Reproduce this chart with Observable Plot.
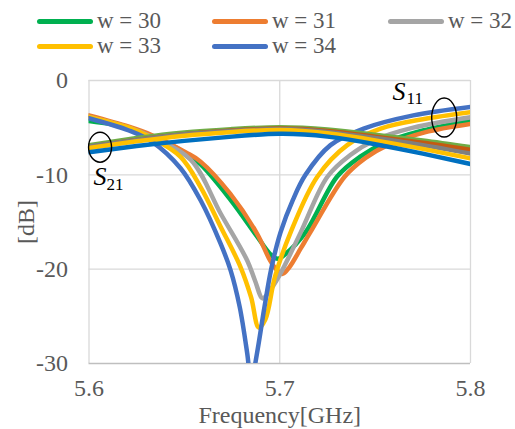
<!DOCTYPE html>
<html><head><meta charset="utf-8">
<script src="https://cdn.jsdelivr.net/npm/d3@7"></script>
<script src="https://cdn.jsdelivr.net/npm/@observablehq/plot@0.6"></script>
<style>
body{margin:0;background:#fff;}
#wrap{position:relative;width:515px;height:429px;font-family:"Liberation Serif","Times New Roman",serif;color:#595959;overflow:hidden;}
.leg{position:absolute;display:flex;align-items:center;font-size:23px;white-space:nowrap;height:24px;line-height:24px;}
.sw{width:56px;height:5px;border-radius:3px;margin-right:4px;}
#chart{position:absolute;left:0;top:60px;}
</style></head><body>
<div id="wrap"><div id="legend"></div><div id="chart"></div></div>
<script>
// ---- data ----
const widths = [30, 31, 32, 33, 34];
const legendLabels = ["w = 30", "w = 31", "w = 32", "w = 33", "w = 34"];
const s11Colors = ["#00b050", "#ed7d31", "#a5a5a5", "#ffc000", "#4472c4"];
const s21Colors = ["#70ad47", "#c55a11", "#7f7f7f", "#ffc000", "#0070c0"];

// S11 (reflection) per width: frequency [GHz] and magnitude [dB]
const s11Freq30 = [5.600, 5.6209, 5.6331, 5.6506, 5.6585, 5.674, 5.688, 5.695, 5.699, 5.703, 5.7135, 5.730, 5.742, 5.755, 5.775, 5.800];
const s11dB30   = [-4.3, -5.0, -5.9, -7.7, -8.9, -12.6, -16.5, -18.4, -18.9, -18.4, -16.1, -10.2, -8.1, -6.6, -5.3, -4.25];
const s11Freq31 = [5.600, 5.6209, 5.6331, 5.6506, 5.6585, 5.674, 5.688, 5.695, 5.6985, 5.7015, 5.705, 5.711, 5.716, 5.734, 5.745, 5.756, 5.776, 5.800];
const s11dB31   = [-3.7, -4.9, -5.8, -7.6, -8.6, -12.0, -16.2, -19.1, -20.1, -20.5, -19.8, -17.8, -16.1, -10.2, -8.2, -6.9, -5.5, -4.6];
const s11Freq32 = [5.600, 5.6209, 5.6331, 5.6533, 5.669, 5.683, 5.687, 5.691, 5.694, 5.700, 5.711, 5.725, 5.737, 5.750, 5.770, 5.800];
const s11dB32   = [-3.85, -5.0, -6.0, -8.4, -14.1, -19.1, -21.2, -23.1, -22.5, -20.6, -16.1, -10.2, -7.9, -6.3, -5.0, -3.9];
const s11Freq33 = [5.600, 5.6209, 5.6331, 5.648, 5.6585, 5.669, 5.6795, 5.685, 5.689, 5.6925, 5.6975, 5.7057, 5.7197, 5.7354, 5.7529, 5.775, 5.800];
const s11dB33   = [-3.85, -5.0, -6.1, -8.1, -11.3, -15.5, -19.8, -23.0, -26.2, -25.3, -20.8, -16.1, -10.2, -6.85, -5.1, -4.1, -3.35];
const s11Freq34 = [5.600, 5.6209, 5.6331, 5.648, 5.6585, 5.669, 5.6742, 5.679, 5.683, 5.685, 5.688, 5.692, 5.6955, 5.7004, 5.707, 5.7135, 5.7266, 5.744, 5.770, 5.800];
const s11dB34   = [-4.0, -5.3, -6.5, -9.3, -12.7, -17.3, -20.1, -24.0, -29.0, -32.0, -29.0, -24.0, -20.0, -16.1, -12.6, -10.0, -6.85, -5.1, -3.7, -2.8];

// S21 (transmission), common frequency grid
const s21Freq = [5.600, 5.625, 5.650, 5.675, 5.700, 5.725, 5.750, 5.775, 5.800];
const s21dB30 = [-6.85, -6.1, -5.5, -5.15, -4.95, -5.2, -5.75, -6.35, -7.05];
const s21dB31 = [-7.05, -6.3, -5.7, -5.3, -5.1, -5.35, -5.95, -6.6, -7.35];
const s21dB32 = [-7.0, -6.3, -5.7, -5.35, -5.15, -5.45, -6.1, -6.85, -7.75];
const s21dB33 = [-7.15, -6.45, -5.85, -5.45, -5.25, -5.6, -6.35, -7.25, -8.25];
const s21dB34 = [-7.6, -6.95, -6.4, -5.95, -5.65, -5.95, -6.75, -7.75, -8.85];

const xTicks = [5.6, 5.7, 5.8];
const yTicks = [0, -10, -20, -30];

// ---- build tables ----
const s11Sets = [[s11Freq30, s11dB30], [s11Freq31, s11dB31], [s11Freq32, s11dB32], [s11Freq33, s11dB33], [s11Freq34, s11dB34]];
const s21Sets = [s21dB30, s21dB31, s21dB32, s21dB33, s21dB34];
const s11Rows = s11Sets.map(([fs, ds], i) => fs.map((f, j) => ({f, db: ds[j], w: widths[i]})));
const s21Rows = s21Sets.map((ds, i) => s21Freq.map((f, j) => ({f, db: ds[j], w: widths[i]})));

// legend
const legPos = [[37, 9], [212, 9], [388, 9], [37, 34], [212, 34]];
const legend = document.getElementById("legend");
legendLabels.forEach((lab, i) => {
  const d = document.createElement("div");
  d.className = "leg";
  d.style.left = legPos[i][0] + "px";
  d.style.top = legPos[i][1] + "px";
  d.innerHTML = `<span class="sw" style="background:${s11Colors[i]}"></span><span>${lab}</span>`;
  legend.appendChild(d);
});

function ellipseSymbol(rx, ry) {
  const k = 0.5523;
  return {draw(ctx) {
    ctx.moveTo(rx, 0);
    ctx.bezierCurveTo(rx, ry * k, rx * k, ry, 0, ry);
    ctx.bezierCurveTo(-rx * k, ry, -rx, ry * k, -rx, 0);
    ctx.bezierCurveTo(-rx, -ry * k, -rx * k, -ry, 0, -ry);
    ctx.bezierCurveTo(rx * k, -ry, rx, -ry * k, rx, 0);
    ctx.closePath();
  }};
}

const serif = "Liberation Serif, Times New Roman, serif";
const chart = Plot.plot({
  width: 515, height: 369,
  marginLeft: 88.5, marginRight: 45, marginTop: 20, marginBottom: 66,
  x: {domain: [5.6, 5.8]},
  y: {domain: [-30, 0]},
  style: {fontFamily: serif, fontSize: "24px", color: "#595959", background: "#fff", overflow: "visible"},
  marks: [
    Plot.gridY(yTicks.slice(0, 3), {stroke: "#d9d9d9", strokeOpacity: 1, strokeWidth: 1.3}),
    Plot.gridX(xTicks, {stroke: "#d9d9d9", strokeOpacity: 1, strokeWidth: 1.3}),
    Plot.ruleY([-30], {stroke: "#bfbfbf", strokeWidth: 1.6}),
    Plot.axisY(yTicks, {tickSize: 0, tickPadding: 21, fontSize: 24, tickFormat: d => String(d), label: "[dB]", labelAnchor: "center", labelArrow: "none", labelOffset: 72}),
    Plot.axisX(xTicks, {tickSize: 0, tickPadding: 15, fontSize: 24, tickFormat: d3.format(".1f"), label: "Frequency[GHz]", labelAnchor: "center", labelArrow: "none", labelOffset: 59}),
    ...s11Rows.map((rows, i) => Plot.line(rows, {x: "f", y: "db", stroke: s11Colors[i], strokeWidth: 4.5, curve: "catmull-rom", clip: true, strokeLinejoin: "round"})),
    ...s21Rows.map((rows, i) => Plot.line(rows, {x: "f", y: "db", stroke: s21Colors[i], strokeWidth: 4.5, curve: "natural", clip: true})),
    Plot.dot([{f: 5.6058, db: -7.07}], {x: "f", y: "db", symbol: ellipseSymbol(11.5, 15), r: 10, stroke: "#000", fill: "none", strokeWidth: 1.4}),
    Plot.dot([{f: 5.7862, db: -3.93}], {x: "f", y: "db", symbol: ellipseSymbol(12.5, 19.5), r: 10, stroke: "#000", fill: "none", strokeWidth: 1.4}),
    Plot.text([{f: 5.6024, db: -11.1}, {f: 5.7591, db: -2.07}], {x: "f", y: "db", text: () => "S", fontStyle: "italic", fontSize: 26, fill: "#000", textAnchor: "start", lineAnchor: "bottom"}),
    Plot.text([{f: 5.6092, db: -11.64, t: "21"}, {f: 5.7665, db: -2.5, t: "11"}], {x: "f", y: "db", text: "t", fontSize: 17, fill: "#000", textAnchor: "start", lineAnchor: "bottom"})
  ]
});
document.getElementById("chart").appendChild(chart);
</script>
</body></html>
